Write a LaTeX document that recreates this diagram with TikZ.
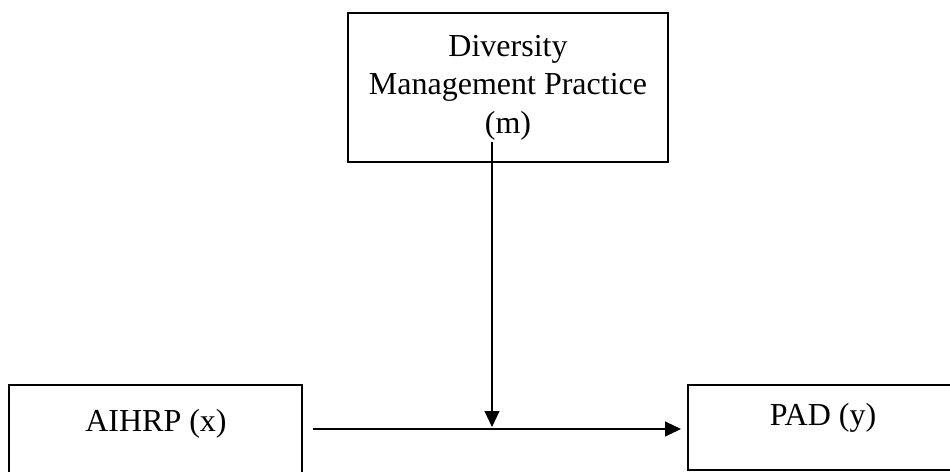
\documentclass[tikz,border=0pt]{standalone}
\usepackage{fontspec}
\setmainfont{Liberation Serif}
\usetikzlibrary{arrows.meta}

\tikzset{
  varbox/.style={draw=black, line width=2pt, rectangle, inner sep=0pt},
  label text/.style={font=\fontsize{32}{38.5}\selectfont, align=center, inner sep=0pt},
  link/.style={draw=black, line width=1.1pt, -{Triangle[length=16pt,width=15pt]}}
}

\begin{document}
\begin{tikzpicture}[x=1pt, y=-1pt]
  \useasboundingbox (0,0) rectangle (950,471);
  \clip (0,0) rectangle (950,471);

  % moderator box
  \node[varbox, minimum width=320pt, minimum height=149pt, label text]
    (mod) at (508,87.5) {Diversity\\Management Practice\\(m)};

  % predictor and outcome boxes (running off the lower and right edges)
  \node[varbox, minimum width=293pt, minimum height=110pt] (xbox) at (155.5,440) {};
  \node[varbox, minimum width=280pt, minimum height=85pt] (ybox) at (828,427.5) {};

  \node[label text, anchor=base] (xtext) at (156,431) {AIHRP (x)};
  \node[label text, anchor=base] (ytext) at (823,425) {PAD (y)};

  % connector points
  \coordinate (xout) at ([xshift=10pt]xbox.east |- 0,429);
  \coordinate (yin) at ([xshift=-6pt]ybox.west |- 0,429);
  \coordinate (mstart) at (492,142);
  \coordinate (mend) at (492,427);

  \draw[link] (xout) -- (yin);
  \draw[link] (mstart) -- (mend);
\end{tikzpicture}
\end{document}
